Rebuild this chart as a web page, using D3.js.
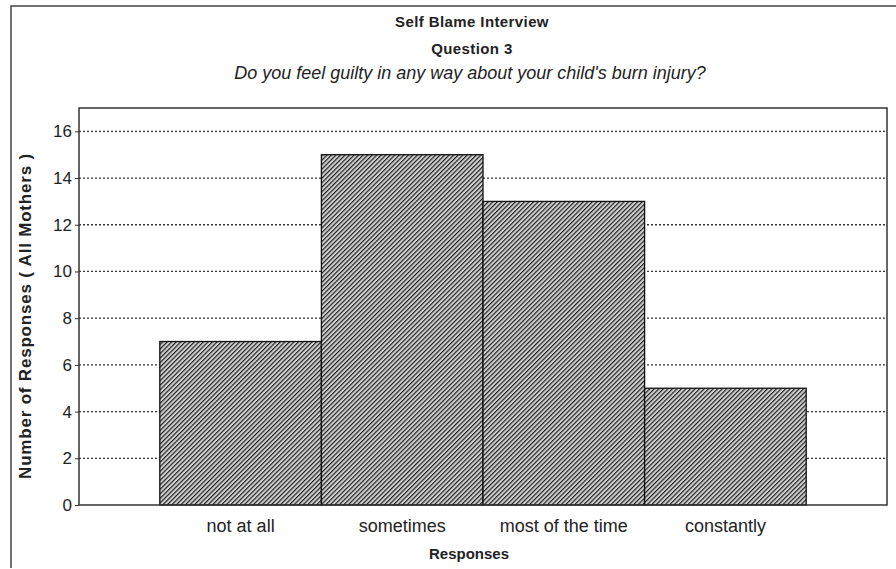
<!DOCTYPE html>
<html>
<head>
<meta charset="utf-8">
<script src="https://cdn.jsdelivr.net/npm/d3@7"></script>
<style>
  body { margin: 0; background: #fff; }
  text { font-family: "Liberation Sans", Arial, sans-serif; fill: #222; }
</style>
</head>
<body>
<svg width="896" height="569"></svg>
<script>
// chart data
const categories = ["not at all", "sometimes", "most of the time", "constantly"];
const counts = [7, 15, 13, 5];
const yTicks = [0, 2, 4, 6, 8, 10, 12, 14, 16];

const margin = { top: 108, right: 9, bottom: 64, left: 79 },
    width = 896 - margin.left - margin.right,
    height = 569 - margin.top - margin.bottom;

const svg = d3.select("svg");

// hatch pattern for the bars
const defs = svg.append("defs");
const pat = defs.append("pattern")
    .attr("id", "hatch")
    .attr("patternUnits", "userSpaceOnUse")
    .attr("width", 3.2)
    .attr("height", 3.2)
    .attr("patternTransform", "rotate(45)");
pat.append("rect").attr("width", 3.2).attr("height", 3.2).attr("fill", "#cfcfcf");
pat.append("line")
    .attr("x1", 0).attr("y1", 0).attr("x2", 0).attr("y2", 3.2)
    .attr("stroke", "#1e1e1e").attr("stroke-width", 2.3);

// outer frame
svg.append("path")
    .attr("d", "M11,568 L11,6 L896,6")
    .attr("fill", "none")
    .attr("stroke", "#444")
    .attr("stroke-width", 1.5);

// titles
svg.append("text")
    .attr("x", 472).attr("y", 27)
    .attr("text-anchor", "middle")
    .attr("font-size", 15).attr("font-weight", "bold")
    .attr("letter-spacing", 0.4)
    .text("Self Blame Interview");
svg.append("text")
    .attr("x", 472).attr("y", 54)
    .attr("text-anchor", "middle")
    .attr("font-size", 15).attr("font-weight", "bold")
    .attr("letter-spacing", 0.4)
    .text("Question 3");
svg.append("text")
    .attr("x", 470).attr("y", 79)
    .attr("text-anchor", "middle")
    .attr("font-size", 18).attr("font-style", "italic")
    .text("Do you feel guilty in any way about your child's burn injury?");

const g = svg.append("g")
    .attr("transform", "translate(" + margin.left + "," + margin.top + ")");

let x = d3.scaleBand()
    .domain(categories)
    .range([0, width])
    .paddingInner(0)
    .paddingOuter(0.5);

let y = d3.scaleLinear().domain([0, 17]).range([height, 0]);

// dotted gridlines
g.selectAll(".grid")
    .data(yTicks.filter(d => d > 0))
    .enter()
    .append("line")
    .attr("class", "grid")
    .attr("x1", 0).attr("x2", width)
    .attr("y1", d => y(d)).attr("y2", d => y(d))
    .attr("stroke", "#333")
    .attr("stroke-width", 1.3)
    .attr("stroke-dasharray", "2,2");

// bars
g.selectAll(".bar")
    .data(counts)
    .enter()
    .append("rect")
    .attr("class", "bar")
    .attr("x", (d, i) => x(categories[i]))
    .attr("y", d => y(d))
    .attr("width", x.bandwidth())
    .attr("height", d => height - y(d))
    .attr("fill", "url(#hatch)")
    .attr("stroke", "#111")
    .attr("stroke-width", 1.3);

// plot frame
g.append("rect")
    .attr("width", width).attr("height", height)
    .attr("fill", "none")
    .attr("stroke", "#333")
    .attr("stroke-width", 1.5);

// axes
const yAxis = g.append("g")
    .call(d3.axisLeft(y).tickValues(yTicks).tickSize(4).tickPadding(3));
yAxis.select(".domain").remove();
yAxis.selectAll("text").attr("font-size", 17).style("font-family", "Liberation Sans, Arial, sans-serif").attr("fill", "#222");
yAxis.selectAll("line").attr("stroke", "#333");

const xAxis = g.append("g")
    .attr("transform", "translate(0," + height + ")")
    .call(d3.axisBottom(x).tickSize(0).tickPadding(14));
xAxis.select(".domain").remove();
xAxis.selectAll("text").attr("font-size", 18).style("font-family", "Liberation Sans, Arial, sans-serif").attr("fill", "#222");

// axis titles
svg.append("text")
    .attr("x", 469).attr("y", 559)
    .attr("text-anchor", "middle")
    .attr("font-size", 15).attr("font-weight", "bold")
    .text("Responses");
svg.append("text")
    .attr("transform", "translate(31,316) rotate(-90)")
    .attr("text-anchor", "middle")
    .attr("font-size", 17).attr("font-weight", "bold")
    .attr("letter-spacing", 0.8)
    .text("Number of Responses ( All Mothers )");
</script>
</body>
</html>
